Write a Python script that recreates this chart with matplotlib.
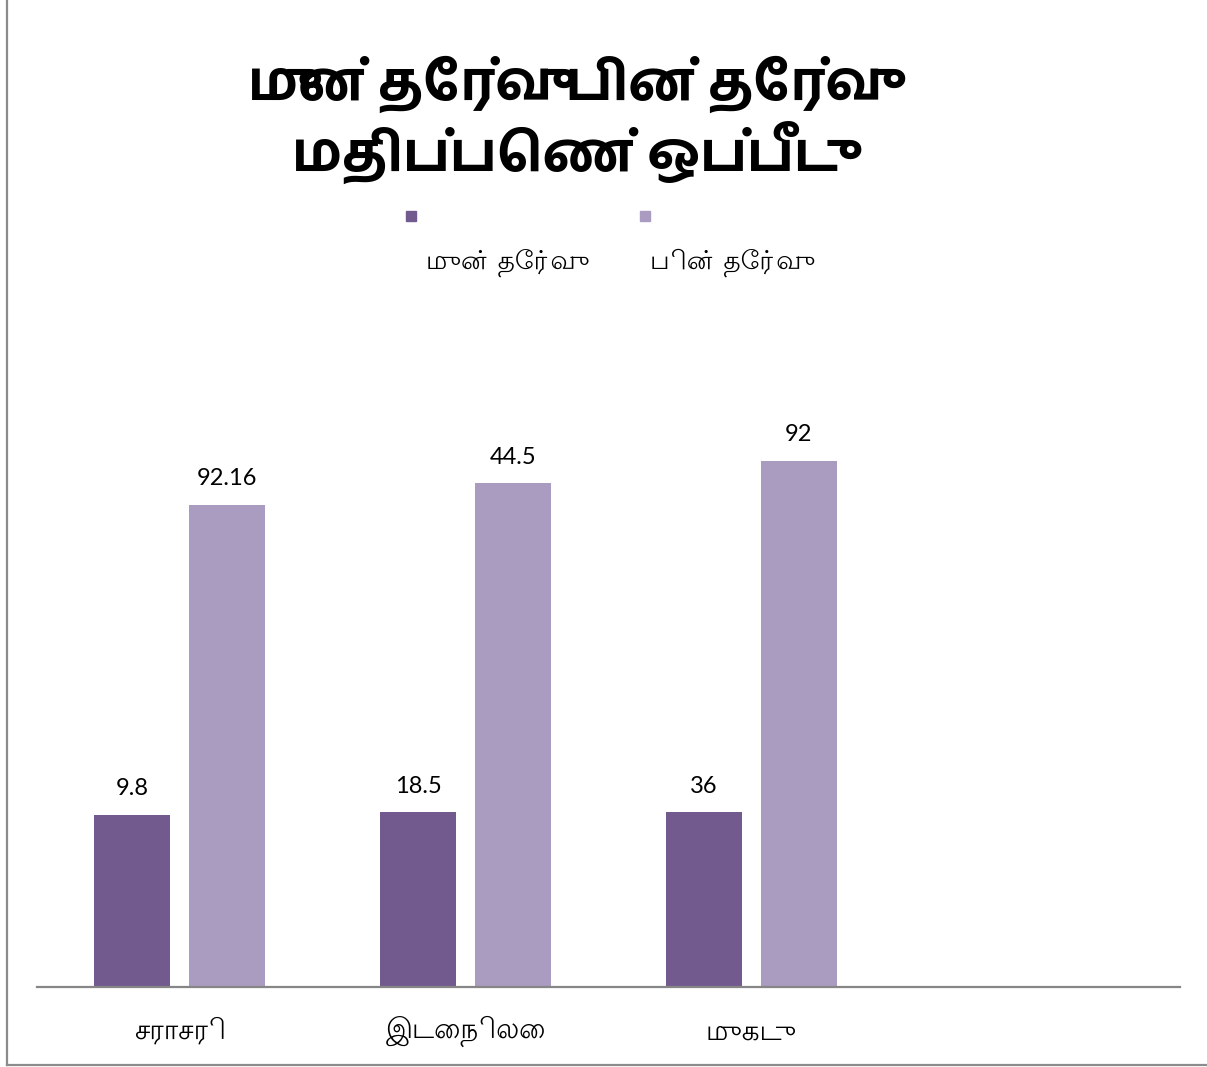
import os
import matplotlib
matplotlib.use("Agg")
import numpy as np
import matplotlib.pyplot as plt
from matplotlib.font_manager import FontProperties
from matplotlib.lines import Line2D
from matplotlib.patches import Rectangle

# data
categories = ["சராசரி", "இடைநிலை", "முகடு"]
series_names = ["முன் தேர்வு", "பின் தேர்வு"]
pre_heights = [26.2, 26.6, 26.6]      # bar heights as drawn (hidden y scale 0-100)
post_heights = [73.4, 76.7, 80.1]
pre_labels = ["9.8", "18.5", "36"]    # data labels printed above the bars
post_labels = ["92.16", "44.5", "92"]
title = "முன் தேர்வு பின் தேர்வு\nமதிப்பெண் ஒப்பீடு"

pre_color = "#725A8F"
post_color = "#AA9BC0"

gf = "/usr/share/fonts/truetype/google-fonts/"
def tamil_font(name, size):
    path = gf + name
    if os.path.exists(path):
        return FontProperties(fname=path, size=size)
    return FontProperties(family=["Noto Sans", "DejaVu Sans"], size=size)

title_font = tamil_font("HindMadurai-Bold.ttf", 39)
cat_font = tamil_font("Lohit-Tamil.ttf", 20)
legend_font = tamil_font("Lohit-Tamil.ttf", 19)

fig = plt.figure(figsize=(12.07, 10.67), dpi=100)
ax = fig.add_axes([0.0307, 0.0750, 0.9469, 0.6157])

x = np.arange(len(categories))
w = 0.266
off = 0.166
b1 = ax.bar(x - off, pre_heights, w, color=pre_color)
b2 = ax.bar(x + off, post_heights, w, color=post_color)

for bars, labels in [(b1, pre_labels), (b2, post_labels)]:
    for r, lab in zip(bars, labels):
        ax.annotate(lab, (r.get_x() + r.get_width() / 2, r.get_height()),
                    xytext=(0, 14), textcoords="offset points",
                    ha="center", va="baseline", fontsize=17, family="Lato")

ax.set_xlim(-0.5, 3.5)
ax.set_ylim(0, 100)
ax.set_xticks(x)
ax.set_xticklabels(categories, fontproperties=cat_font)
ax.tick_params(axis="x", length=0, pad=21)
ax.set_yticks([])
for s in ["top", "right", "left"]:
    ax.spines[s].set_visible(False)
ax.spines["bottom"].set_color("#868686")
ax.spines["bottom"].set_linewidth(1.6)

# title
fig.text(0.468, 1 - 120 / 1067, title, ha="center", va="center",
         fontproperties=title_font, linespacing=1.15)

# legend: small square above each name
for px, tx, name, col in [(406, 508, series_names[0], pre_color),
                          (640, 733, series_names[1], post_color)]:
    fig.patches.append(Rectangle((px / 1207, 1 - 221 / 1067), 10 / 1207, 10 / 1067,
                                 transform=fig.transFigure, color=col))
    fig.text(tx / 1207, 1 - 263 / 1067, name, ha="center", va="center",
             fontproperties=legend_font)

# chart border (left and bottom edges visible)
fig.add_artist(Line2D([7 / 1207, 7 / 1207], [0.002, 1.0], color="#8C8C8C", lw=1.6))
fig.add_artist(Line2D([7 / 1207, 1.0], [0.002, 0.002], color="#8C8C8C", lw=1.6))

fig.savefig("out.png", dpi=100, facecolor="white")
